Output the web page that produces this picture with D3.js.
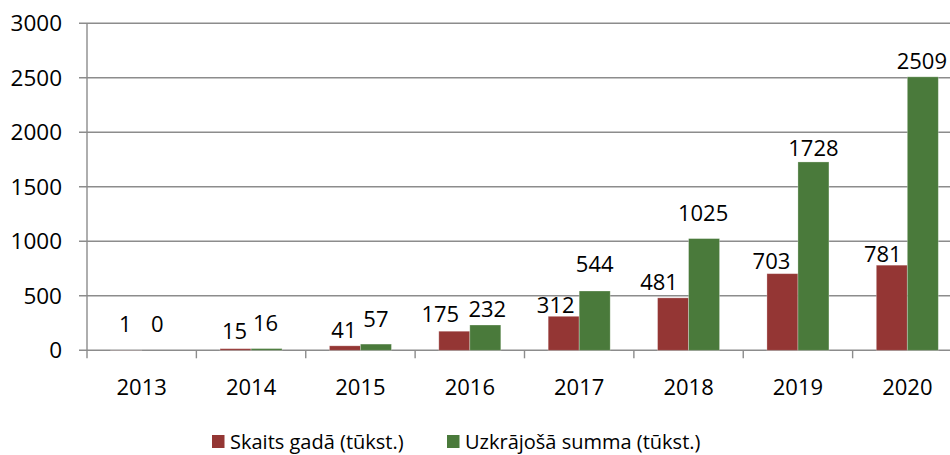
<!DOCTYPE html>
<html>
<head>
<meta charset="utf-8">
<script src="https://cdn.jsdelivr.net/npm/d3@7"></script>
<style>
  body { margin: 0; background: #fff; }
  text { font-family: "Open Sans", sans-serif; fill: #000; }
</style>
</head>
<body>
<svg id="chart"></svg>
<script>

var years = ["2013", "2014", "2015", "2016", "2017", "2018", "2019", "2020"];
var seriesNames = ["Skaits gadā (tūkst.)", "Uzkrājošā summa (tūkst.)"];
var perYear = [1, 15, 41, 175, 312, 481, 703, 781];
var cumulative = [0, 16, 57, 232, 544, 1025, 1728, 2509];
var yTicks = [0, 500, 1000, 1500, 2000, 2500, 3000];

var colors = ["#943634", "#4a7a3b"];

// label nudges, like excel moved them so they do not overlap [dx, dy]
var nudgeRed = [[-1, -10], [-1, -2], [-1, 0], [-14, -1], [-8, 5], [-14, 0], [-11, 3], [-9, 5]];
var nudgeGreen = [[0, -10], [-1, -10], [0, -9], [2, 0], [0, -11], [-1, -10], [0, 2], [-1, 0]];

function drawChart(svgEl) {
  var width = 950, height = 455;
  var margin = {left: 87, top: 23.3, bottom: 350.3};

  var svg = d3.select(svgEl)
    .attr("width", width)
    .attr("height", height);

  var y = d3.scaleLinear()
    .domain([0, 3000])
    .range([margin.bottom, margin.top]);

  // plot runs past the right edge of the picture
  var x0 = d3.scaleBand()
    .domain(years)
    .range([margin.left, margin.left + 8 * 109.375]);

  var x1 = d3.scaleBand()
    .domain([0, 1])
    .range([0, x0.bandwidth()])
    .paddingOuter(0.764);

  var gridColor = "#8c8c8c";

  // gridlines + y ticks
  svg.append("g")
    .selectAll("line")
    .data(yTicks)
    .enter().append("line")
    .attr("x1", margin.left - 8)
    .attr("x2", width)
    .attr("y1", function(d) { return y(d); })
    .attr("y2", function(d) { return y(d); })
    .attr("stroke", gridColor)
    .attr("stroke-width", 1.4);

  svg.append("g")
    .selectAll("text")
    .data(yTicks)
    .enter().append("text")
    .attr("x", 62)
    .attr("y", function(d) { return y(d); })
    .attr("dy", "0.36em")
    .attr("text-anchor", "end")
    .style("font-size", "22.5px")
    .text(function(d) { return d; });

  // y axis line
  svg.append("line")
    .attr("x1", margin.left).attr("x2", margin.left)
    .attr("y1", y(3000)).attr("y2", y(0))
    .attr("stroke", gridColor)
    .attr("stroke-width", 1.4);

  // x ticks at the category edges
  var edges = years.map(function(d) { return x0(d); });
  edges.push(x0.range()[1]);
  svg.append("g")
    .selectAll("line")
    .data(edges)
    .enter().append("line")
    .attr("x1", function(d) { return d; })
    .attr("x2", function(d) { return d; })
    .attr("y1", y(0))
    .attr("y2", y(0) + 8)
    .attr("stroke", gridColor)
    .attr("stroke-width", 1.4);

  svg.append("g")
    .selectAll("text")
    .data(years)
    .enter().append("text")
    .attr("x", function(d) { return x0(d) + x0.bandwidth() / 2; })
    .attr("y", 394.5)
    .attr("text-anchor", "middle")
    .style("font-size", "22px")
    .text(function(d) { return d; });

  // bars
  var series = [perYear, cumulative];
  var nudges = [nudgeRed, nudgeGreen];

  series.forEach(function(vals, s) {
    var g = svg.append("g");
    g.selectAll("rect")
      .data(vals)
      .enter().append("rect")
      .attr("x", function(d, i) { return x0(years[i]) + x1(s); })
      .attr("y", function(d) { return y(d); })
      .attr("width", x1.bandwidth())
      .attr("height", function(d) { return y(0) - y(d); })
      .attr("fill", colors[s])
      .attr("stroke", "#ffffff")
      .attr("stroke-opacity", 0.35)
      .attr("stroke-width", 0.8);

    g.selectAll("text")
      .data(vals)
      .enter().append("text")
      .attr("x", function(d, i) { return x0(years[i]) + x1(s) + x1.bandwidth() / 2 + nudges[s][i][0]; })
      .attr("y", function(d, i) { return y(d) - 8 + nudges[s][i][1]; })
      .attr("text-anchor", "middle")
      .style("font-size", "22px")
      .text(function(d) { return d; });
  });

  // legend
  var legend = svg.append("g").attr("transform", "translate(212,435)");
  var lx = [0, 235];
  seriesNames.forEach(function(name, s) {
    legend.append("rect")
      .attr("x", lx[s])
      .attr("y", 0)
      .attr("width", 12.5)
      .attr("height", 13)
      .attr("fill", colors[s]);
    legend.append("text")
      .attr("x", lx[s] + 18)
      .attr("y", 13.5)
      .style("font-size", "20px")
      .text(name);
  });
}

drawChart(document.querySelector("#chart"));
</script>
</body>
</html>
